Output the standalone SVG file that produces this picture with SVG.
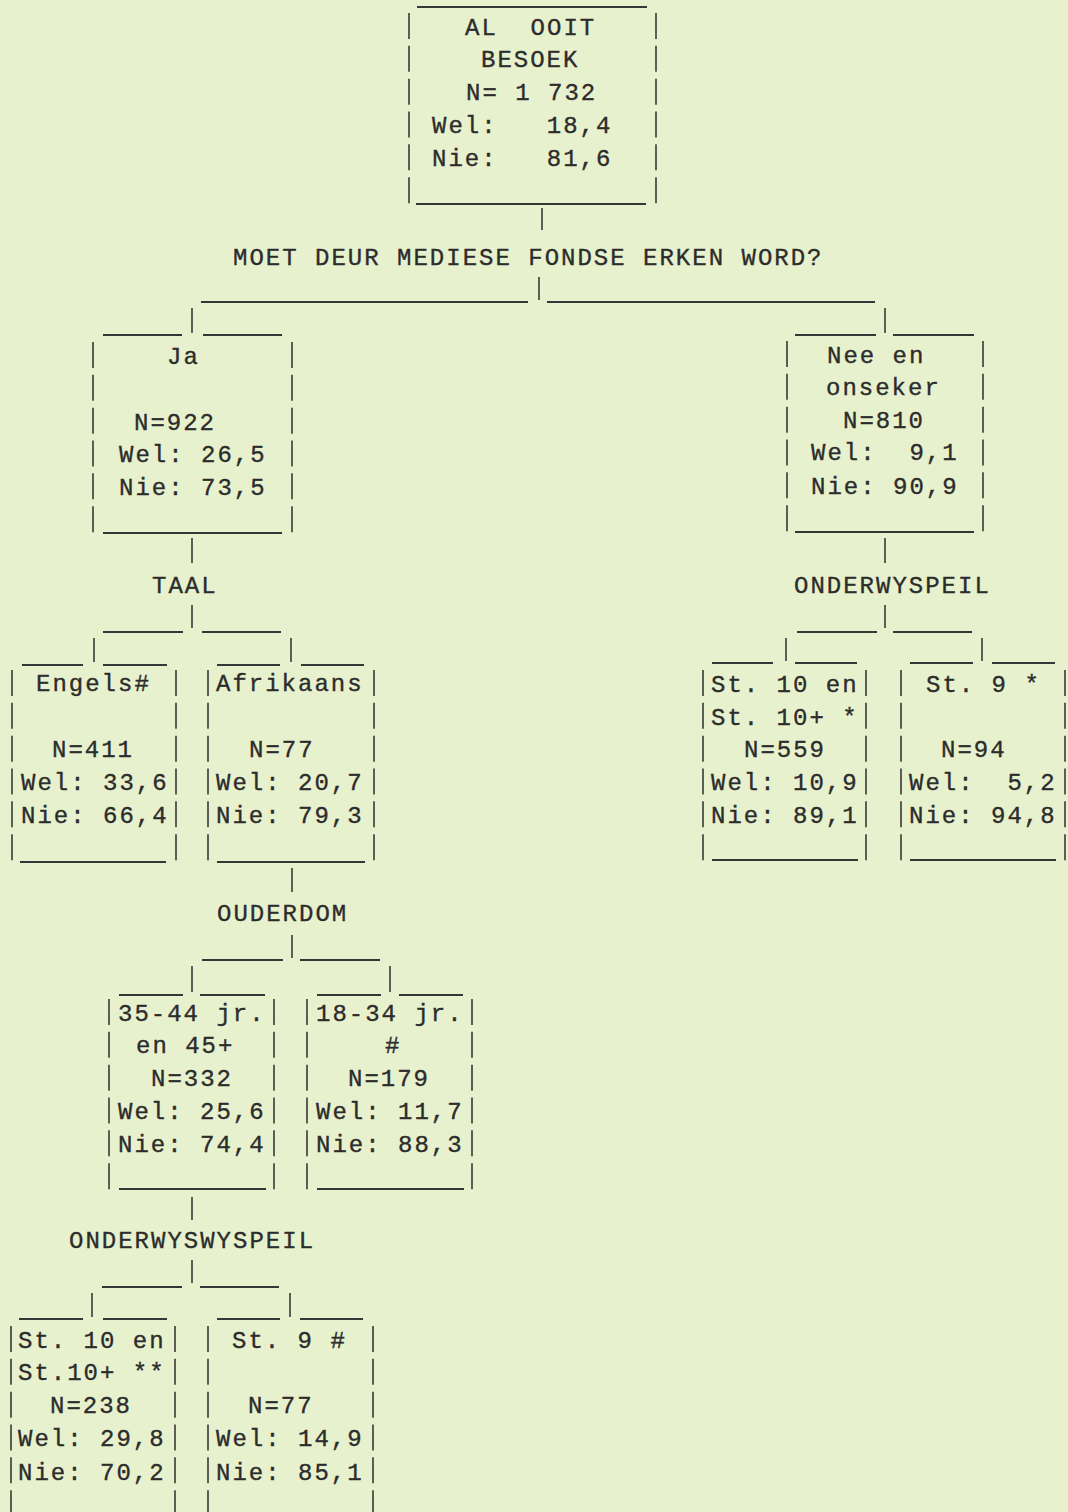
<svg xmlns="http://www.w3.org/2000/svg" width="1068" height="1512" viewBox="0 0 1068 1512" xml:space="preserve">
<style>
.t{font-family:"Liberation Mono","DejaVu Sans Mono",monospace;font-size:24px;letter-spacing:2px;fill:#2c2c2c;stroke:#2c2c2c;stroke-width:0.35;white-space:pre}
.ln{stroke:#363636;stroke-width:1.8;fill:none}
.sd{stroke:#3a3a3a;stroke-width:1.6;fill:none;stroke-dasharray:26 6.84}
.cn{stroke:#3a3a3a;stroke-width:1.6;fill:none}
</style>
<rect x="0" y="0" width="1068" height="1512" fill="#e8f1cd"/>

<g id="connectors">
<line class="cn" x1="542" y1="208" x2="542" y2="230"/>
<line class="cn" x1="539" y1="277" x2="539" y2="300"/>
<line class="ln" x1="201" y1="302" x2="528" y2="302"/>
<line class="ln" x1="547" y1="302" x2="875" y2="302"/>
<line class="cn" x1="192" y1="308" x2="192" y2="333"/>
<line class="cn" x1="885" y1="308" x2="885" y2="333"/>
<line class="cn" x1="192" y1="538" x2="192" y2="563"/>
<line class="cn" x1="192" y1="605" x2="192" y2="628"/>
<line class="ln" x1="103" y1="632" x2="183" y2="632"/>
<line class="ln" x1="202" y1="632" x2="281" y2="632"/>
<line class="cn" x1="94" y1="638" x2="94" y2="662"/>
<line class="cn" x1="291" y1="638" x2="291" y2="662"/>
<line class="cn" x1="885" y1="538" x2="885" y2="563"/>
<line class="cn" x1="885" y1="605" x2="885" y2="628"/>
<line class="ln" x1="797" y1="632" x2="877" y2="632"/>
<line class="ln" x1="893" y1="632" x2="972" y2="632"/>
<line class="cn" x1="786" y1="638" x2="786" y2="661"/>
<line class="cn" x1="982" y1="638" x2="982" y2="661"/>
<line class="cn" x1="292" y1="868" x2="292" y2="892"/>
<line class="cn" x1="292" y1="935" x2="292" y2="958"/>
<line class="ln" x1="202" y1="960" x2="283" y2="960"/>
<line class="ln" x1="300" y1="960" x2="380" y2="960"/>
<line class="cn" x1="192" y1="966" x2="192" y2="992"/>
<line class="cn" x1="390" y1="966" x2="390" y2="992"/>
<line class="cn" x1="192" y1="1197" x2="192" y2="1220"/>
<line class="cn" x1="192" y1="1260" x2="192" y2="1283"/>
<line class="ln" x1="102" y1="1287" x2="182" y2="1287"/>
<line class="ln" x1="200" y1="1287" x2="279" y2="1287"/>
<line class="cn" x1="92" y1="1293" x2="92" y2="1317"/>
<line class="cn" x1="290" y1="1293" x2="290" y2="1317"/>
</g>

<g id="labels">
<text class="t" x="233" y="265">MOET DEUR MEDIESE FONDSE ERKEN WORD?</text>
<text class="t" x="152" y="593">TAAL</text>
<text class="t" x="794" y="593">ONDERWYSPEIL</text>
<text class="t" x="217" y="921">OUDERDOM</text>
<text class="t" x="69" y="1248">ONDERWYSWYSPEIL</text>
</g>

<g id="node-top">
<line class="ln" x1="417" y1="7" x2="647" y2="7"/>
<line class="sd" x1="409" y1="13" x2="409" y2="204"/>
<line class="sd" x1="656" y1="13" x2="656" y2="204"/>
<line class="ln" x1="416" y1="204" x2="646" y2="204"/>
<text class="t" x="465" y="35">AL  OOIT</text>
<text class="t" x="481" y="67">BESOEK</text>
<text class="t" x="466" y="100">N= 1 732</text>
<text class="t" x="432" y="133">Wel:   18,4</text>
<text class="t" x="432" y="166">Nie:   81,6</text>
</g>

<g id="node-ja">
<line class="ln" x1="103" y1="335" x2="182" y2="335"/>
<line class="ln" x1="203" y1="335" x2="282" y2="335"/>
<line class="sd" x1="93" y1="342" x2="93" y2="533"/>
<line class="sd" x1="292" y1="342" x2="292" y2="533"/>
<line class="ln" x1="103" y1="533" x2="282" y2="533"/>
<text class="t" x="167" y="364">Ja</text>
<text class="t" x="134" y="430">N=922</text>
<text class="t" x="119" y="462">Wel: 26,5</text>
<text class="t" x="119" y="495">Nie: 73,5</text>
</g>

<g id="node-nee">
<line class="ln" x1="795" y1="335" x2="876" y2="335"/>
<line class="ln" x1="893" y1="335" x2="974" y2="335"/>
<line class="sd" x1="787" y1="341" x2="787" y2="532"/>
<line class="sd" x1="983" y1="341" x2="983" y2="532"/>
<line class="ln" x1="795" y1="532" x2="974" y2="532"/>
<text class="t" x="827" y="363">Nee en</text>
<text class="t" x="826" y="395">onseker</text>
<text class="t" x="843" y="428">N=810</text>
<text class="t" x="811" y="460">Wel:  9,1</text>
<text class="t" x="811" y="494">Nie: 90,9</text>
</g>

<g id="node-engels">
<line class="ln" x1="22" y1="665" x2="83" y2="665"/>
<line class="ln" x1="103" y1="665" x2="167" y2="665"/>
<line class="sd" x1="12" y1="670" x2="12" y2="862"/>
<line class="sd" x1="176" y1="670" x2="176" y2="862"/>
<line class="ln" x1="20" y1="862" x2="166" y2="862"/>
<text class="t" x="36" y="691">Engels#</text>
<text class="t" x="52" y="757">N=411</text>
<text class="t" x="21" y="790">Wel: 33,6</text>
<text class="t" x="21" y="823">Nie: 66,4</text>
</g>

<g id="node-afrikaans">
<line class="ln" x1="217" y1="665" x2="280" y2="665"/>
<line class="ln" x1="301" y1="665" x2="364" y2="665"/>
<line class="sd" x1="208" y1="670" x2="208" y2="862"/>
<line class="sd" x1="374" y1="670" x2="374" y2="862"/>
<line class="ln" x1="217" y1="862" x2="365" y2="862"/>
<text class="t" x="216" y="691">Afrikaans</text>
<text class="t" x="249" y="757">N=77</text>
<text class="t" x="216" y="790">Wel: 20,7</text>
<text class="t" x="216" y="823">Nie: 79,3</text>
</g>

<g id="node-st10-a">
<line class="ln" x1="712" y1="663" x2="773" y2="663"/>
<line class="ln" x1="795" y1="663" x2="857" y2="663"/>
<line class="sd" x1="703" y1="670" x2="703" y2="861"/>
<line class="sd" x1="866" y1="670" x2="866" y2="861"/>
<line class="ln" x1="712" y1="860" x2="858" y2="860"/>
<text class="t" x="711" y="692">St. 10 en</text>
<text class="t" x="711" y="725">St. 10+ *</text>
<text class="t" x="744" y="757">N=559</text>
<text class="t" x="711" y="790">Wel: 10,9</text>
<text class="t" x="711" y="823">Nie: 89,1</text>
</g>

<g id="node-st9-a">
<line class="ln" x1="910" y1="663" x2="973" y2="663"/>
<line class="ln" x1="992" y1="663" x2="1055" y2="663"/>
<line class="sd" x1="901" y1="670" x2="901" y2="861"/>
<line class="sd" x1="1065" y1="670" x2="1065" y2="861"/>
<line class="ln" x1="910" y1="860" x2="1056" y2="860"/>
<text class="t" x="926" y="692">St. 9 *</text>
<text class="t" x="941" y="757">N=94</text>
<text class="t" x="909" y="790">Wel:  5,2</text>
<text class="t" x="909" y="823">Nie: 94,8</text>
</g>

<g id="node-35-44">
<line class="ln" x1="119" y1="995" x2="183" y2="995"/>
<line class="ln" x1="200" y1="995" x2="265" y2="995"/>
<line class="sd" x1="109" y1="999" x2="109" y2="1190"/>
<line class="sd" x1="274" y1="999" x2="274" y2="1190"/>
<line class="ln" x1="119" y1="1189" x2="266" y2="1189"/>
<text class="t" x="118" y="1021">35-44 jr.</text>
<text class="t" x="136" y="1053">en 45+</text>
<text class="t" x="151" y="1086">N=332</text>
<text class="t" x="118" y="1119">Wel: 25,6</text>
<text class="t" x="118" y="1152">Nie: 74,4</text>
</g>

<g id="node-18-34">
<line class="ln" x1="317" y1="995" x2="381" y2="995"/>
<line class="ln" x1="399" y1="995" x2="463" y2="995"/>
<line class="sd" x1="307" y1="999" x2="307" y2="1190"/>
<line class="sd" x1="472" y1="999" x2="472" y2="1190"/>
<line class="ln" x1="317" y1="1189" x2="464" y2="1189"/>
<text class="t" x="316" y="1021">18-34 jr.</text>
<text class="t" x="385" y="1053">#</text>
<text class="t" x="348" y="1086">N=179</text>
<text class="t" x="316" y="1119">Wel: 11,7</text>
<text class="t" x="316" y="1152">Nie: 88,3</text>
</g>

<g id="node-st10-b">
<line class="ln" x1="19" y1="1319" x2="83" y2="1319"/>
<line class="ln" x1="103" y1="1319" x2="167" y2="1319"/>
<line class="sd" x1="11" y1="1326" x2="11" y2="1516"/>
<line class="sd" x1="175" y1="1326" x2="175" y2="1516"/>
<text class="t" x="18" y="1348">St. 10 en</text>
<text class="t" x="18" y="1380">St.10+ **</text>
<text class="t" x="50" y="1413">N=238</text>
<text class="t" x="18" y="1446">Wel: 29,8</text>
<text class="t" x="18" y="1480">Nie: 70,2</text>
</g>

<g id="node-st9-b">
<line class="ln" x1="217" y1="1319" x2="280" y2="1319"/>
<line class="ln" x1="300" y1="1319" x2="363" y2="1319"/>
<line class="sd" x1="208" y1="1326" x2="208" y2="1516"/>
<line class="sd" x1="373" y1="1326" x2="373" y2="1516"/>
<text class="t" x="232" y="1348">St. 9 #</text>
<text class="t" x="248" y="1413">N=77</text>
<text class="t" x="216" y="1446">Wel: 14,9</text>
<text class="t" x="216" y="1480">Nie: 85,1</text>
</g>
</svg>
